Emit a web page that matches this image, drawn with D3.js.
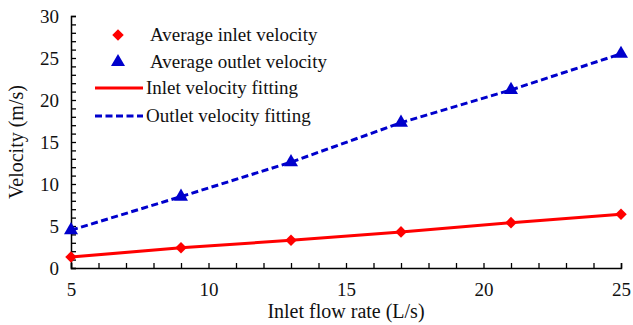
<!DOCTYPE html>
<html>
<head>
<meta charset="utf-8">
<script src="https://cdn.jsdelivr.net/npm/d3@7"></script>
<style>
  body { margin: 0; background: #fff; }
  svg text { font-family: "Liberation Serif", "Times New Roman", serif !important; }
</style>
</head>
<body>
<div id="container"></div>
<script>
// data
const flowRates = [5, 9, 13, 17, 21, 25];
const inletVelocity = [1.3, 2.4, 3.3, 4.3, 5.4, 6.4];
const outletVelocity = [4.5, 8.5, 12.6, 17.3, 21.2, 25.5];
const xTicks = [5, 10, 15, 20, 25];
const yTicks = [0, 5, 10, 15, 20, 25, 30];
const legendLabels = ["Average inlet velocity", "Average outlet velocity", "Inlet velocity fitting", "Outlet velocity fitting"];

const W = 633, H = 325;
const M = { left: 71, right: 12, top: 16, bottom: 57 };
const RED = "#ff0000", BLUE = "#0000cc";

const x = d3.scaleLinear().domain([5, 25]).range([M.left, W - M.right]);
const y = d3.scaleLinear().domain([0, 30]).range([H - M.bottom, M.top]);

const svg = d3.select("#container").append("svg")
    .attr("width", W).attr("height", H).attr("viewBox", [0, 0, W, H]);

// axes: minor ticks every unit, pointing inward
const xAxis = d3.axisBottom(x).tickValues(d3.range(5, 26)).tickSize(-5)
    .tickFormat(d => xTicks.includes(d) ? d : "");
const yAxis = d3.axisLeft(y).tickValues(d3.range(0, 31)).tickSize(-5)
    .tickFormat(d => yTicks.includes(d) ? d : "");

const gx = svg.append("g").attr("transform", `translate(0,${H - M.bottom})`).call(xAxis);
const gy = svg.append("g").attr("transform", `translate(${M.left},0)`).call(yAxis);

[gx, gy].forEach(g => {
    g.attr("font-size", 19);
    g.select(".domain").attr("stroke", "#000").attr("stroke-width", 1.5);
    g.selectAll(".tick line").attr("stroke", "#000").attr("stroke-width", 1.3);
    g.selectAll(".tick text").attr("fill", "#111");
});
gx.selectAll(".tick text").attr("y", 15);
gy.selectAll(".tick text").attr("x", -12);

// axis titles
svg.append("text").attr("x", (M.left + W - M.right) / 2).attr("y", 318)
    .attr("text-anchor", "middle").attr("font-size", 20).attr("fill", "#111")
    .text("Inlet flow rate (L/s)");
svg.append("text").attr("transform", `translate(23,${(M.top + H - M.bottom) / 2}) rotate(-90)`)
    .attr("text-anchor", "middle").attr("font-size", 20).attr("fill", "#111")
    .text("Velocity (m/s)");

const pts = arr => flowRates.map((f, i) => [f, arr[i]]);
const line = d3.line().x(d => x(d[0])).y(d => y(d[1]));

// fitting lines
svg.append("path").datum(pts(inletVelocity)).attr("d", line)
    .attr("fill", "none").attr("stroke", RED).attr("stroke-width", 3);
svg.append("path").datum(pts(outletVelocity)).attr("d", line)
    .attr("fill", "none").attr("stroke", BLUE).attr("stroke-width", 3)
    .attr("stroke-dasharray", "7,3.5");

// markers
const diamond = d3.symbol().type(d3.symbolDiamond2).size(85);
const triangle = d3.symbol().type(d3.symbolTriangle).size(85);

svg.append("g").selectAll("path").data(pts(inletVelocity)).join("path")
    .attr("transform", d => `translate(${x(d[0])},${y(d[1])})`)
    .attr("d", diamond).attr("fill", RED);
svg.append("g").selectAll("path").data(pts(outletVelocity)).join("path")
    .attr("transform", d => `translate(${x(d[0])},${y(d[1])})`)
    .attr("d", triangle).attr("fill", BLUE);

// legend
const legendY = [35, 62, 88, 116];
const lg = svg.append("g");
lg.append("path").attr("transform", `translate(118,${legendY[0]})`).attr("d", diamond).attr("fill", RED);
lg.append("path").attr("transform", `translate(118,${legendY[1]})`).attr("d", triangle).attr("fill", BLUE);
lg.append("line").attr("x1", 95).attr("x2", 143).attr("y1", legendY[2]).attr("y2", legendY[2])
    .attr("stroke", RED).attr("stroke-width", 3);
lg.append("line").attr("x1", 95).attr("x2", 143).attr("y1", legendY[3]).attr("y2", legendY[3])
    .attr("stroke", BLUE).attr("stroke-width", 3).attr("stroke-dasharray", "7,3.5");
lg.selectAll("text").data(legendLabels).join("text")
    .attr("x", (d, i) => i < 2 ? 150 : 146)
    .attr("y", (d, i) => legendY[i]).attr("dy", "0.33em")
    .attr("font-size", 19).attr("fill", "#111")
    .text(d => d);
</script>
</body>
</html>
